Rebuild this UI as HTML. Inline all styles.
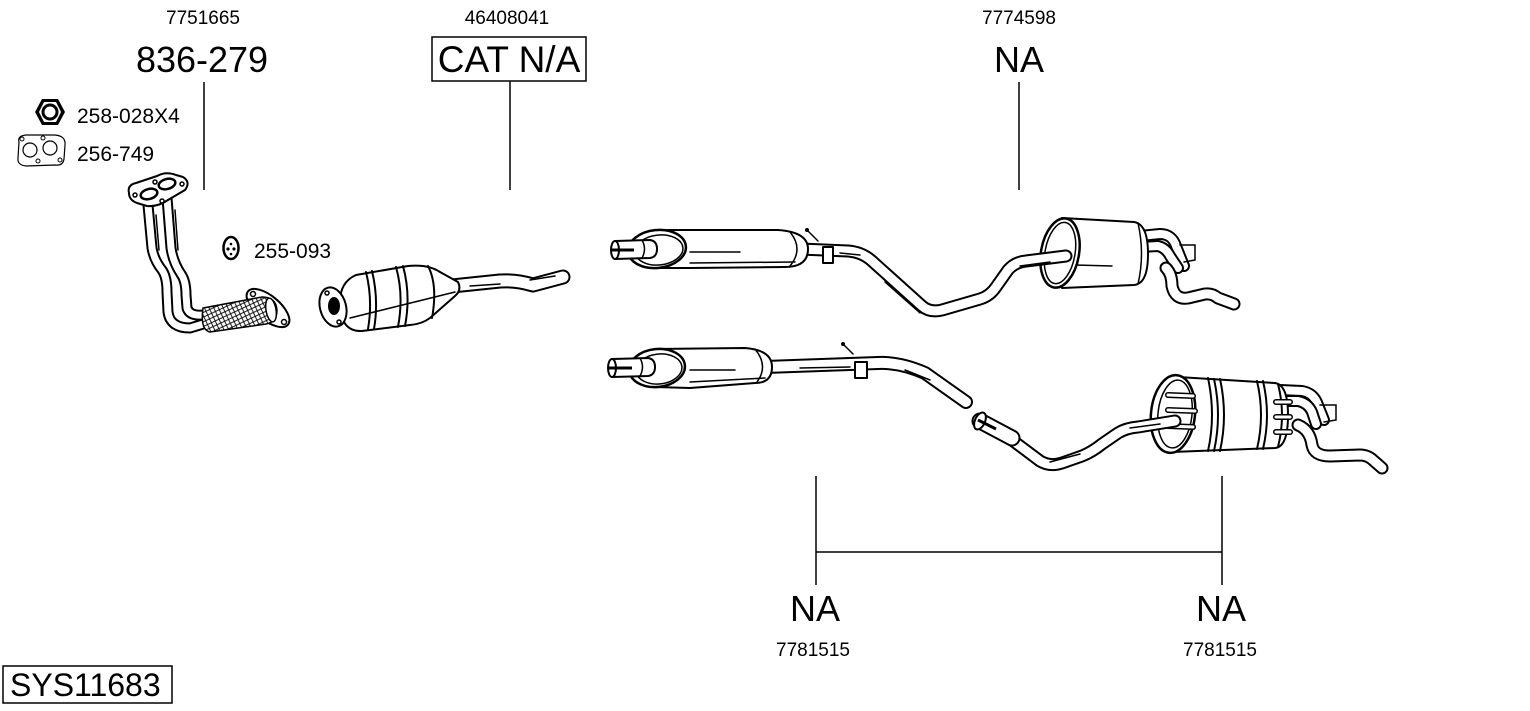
<!DOCTYPE html>
<html><head><meta charset="utf-8"><style>
html,body{margin:0;padding:0;background:#fff;width:1530px;height:711px;overflow:hidden}
svg{display:block}
text{font-family:"Liberation Sans",Arial,sans-serif;fill:#000}
.po{fill:none;stroke:#000;stroke-width:14;stroke-linecap:round;stroke-linejoin:round}
.pi{fill:none;stroke:#fff;stroke-width:10;stroke-linecap:round;stroke-linejoin:round}
.so{fill:none;stroke:#000;stroke-width:11;stroke-linecap:round;stroke-linejoin:round}
.si{fill:none;stroke:#fff;stroke-width:7;stroke-linecap:round;stroke-linejoin:round}
.ln{fill:none;stroke:#000;stroke-width:1.5}
.sh{fill:#fff;stroke:#000;stroke-width:2;stroke-linejoin:round}
.sl{fill:none;stroke:#000;stroke-width:1.5;stroke-linecap:round}
</style></head><body>
<svg width="1530" height="711" viewBox="0 0 1530 711" xmlns="http://www.w3.org/2000/svg">
<defs>
<pattern id="hatch" width="6" height="6" patternUnits="userSpaceOnUse" patternTransform="rotate(20)">
<rect width="6" height="6" fill="#fff"/>
<path d="M0,0 L6,6 M6,0 L0,6" stroke="#000" stroke-width="0.9"/>
</pattern>
</defs>

<!-- Labels -->
<text x="203" y="24" font-size="19" text-anchor="middle">7751665</text>
<text x="202" y="72" font-size="36" text-anchor="middle">836-279</text>
<text x="507" y="24" font-size="19" text-anchor="middle">46408041</text>
<rect x="432" y="37" width="154" height="44" fill="none" stroke="#000" stroke-width="1.5"/>
<text x="509" y="72" font-size="37" text-anchor="middle">CAT N/A</text>
<text x="1019" y="24" font-size="19" text-anchor="middle">7774598</text>
<text x="1019" y="72" font-size="36" text-anchor="middle">NA</text>
<text x="77" y="123" font-size="21">258-028X4</text>
<text x="77" y="161" font-size="21">256-749</text>
<text x="254" y="258" font-size="21">255-093</text>
<text x="815" y="621" font-size="36" text-anchor="middle">NA</text>
<text x="1221" y="621" font-size="36" text-anchor="middle">NA</text>
<text x="813" y="656" font-size="19" text-anchor="middle">7781515</text>
<text x="1220" y="656" font-size="19" text-anchor="middle">7781515</text>
<rect x="3" y="666" width="169" height="37" fill="none" stroke="#000" stroke-width="1.5"/>
<text x="10" y="696" font-size="32">SYS11683</text>

<!-- Leader lines -->
<path class="ln" d="M204,82 V190 M510,81 V190 M1019,82 V190 M816,476 V585 M1222,476 V585 M816,552 H1222"/>

<!-- Nut icon -->
<polygon points="35,112 42,99 58,99 65,112 58,125 42,125" fill="#000"/>
<polygon points="39,112 44,102 56,102 61,112 56,122 44,122" fill="#fff"/>
<circle cx="50" cy="112" r="7" fill="#fff" stroke="#000" stroke-width="3"/>

<!-- Gasket icon -->
<path class="sh" style="stroke-width:1.2" d="M19,142 Q17,136 26,135 L55,135 Q66,136 65,145 L64,159 Q63,166 55,165 L26,166 Q17,165 18,158 Z"/>
<circle cx="30" cy="150" r="7" fill="none" stroke="#000" stroke-width="1.2"/>
<circle cx="50" cy="148" r="7" fill="none" stroke="#000" stroke-width="1.2"/>
<circle cx="22" cy="139" r="2" fill="none" stroke="#000" stroke-width="1"/>
<circle cx="43" cy="138" r="2" fill="none" stroke="#000" stroke-width="1"/>
<circle cx="60" cy="160" r="2" fill="none" stroke="#000" stroke-width="1"/>
<circle cx="38" cy="161" r="2" fill="none" stroke="#000" stroke-width="1"/>

<!-- 255-093 icon -->
<ellipse cx="231" cy="248" rx="7.5" ry="11" fill="#fff" stroke="#000" stroke-width="2.5"/>
<circle cx="228" cy="249" r="1.6" fill="#000"/>
<circle cx="234" cy="249" r="1.6" fill="#000"/>
<circle cx="231" cy="244" r="1.3" fill="#000"/>
<circle cx="231" cy="254" r="1.3" fill="#000"/>

<!-- Downpipe -->
<path class="so" d="M148,205 L152,248 Q154,260 162,270 Q167,277 167,292 L168,312 Q170,328 190,328 L210,322"/>
<path class="si" d="M148,205 L152,248 Q154,260 162,270 Q167,277 167,292 L168,312 Q170,328 190,328 L210,322"/>
<path class="so" d="M167,198 L171,248 Q173,262 181,274 Q186,281 186,295 L187,308 Q190,318 210,314"/>
<path class="si" d="M167,198 L171,248 Q173,262 181,274 Q186,281 186,295 L187,308 Q190,318 210,314"/>
<path class="sl" d="M156,215 L159,250 M175,210 L178,250"/>
<ellipse cx="268" cy="308" rx="26" ry="12" transform="rotate(40 268 308)" class="sh"/>
<circle cx="253" cy="294" r="2.5" fill="#fff" stroke="#000" stroke-width="1.5"/>
<circle cx="284" cy="322" r="2.5" fill="#fff" stroke="#000" stroke-width="1.5"/>
<path d="M203,308 L262,297 Q276,297 277,310 Q277,322 266,324 L210,332 Q200,330 203,308 Z" fill="url(#hatch)" stroke="#000" stroke-width="1.5"/>
<ellipse cx="271" cy="310" rx="5" ry="12" transform="rotate(-10 271 310)" class="sh" style="stroke-width:1.5"/>
<path class="sh" d="M129,193 Q127,185 136,183 L157,176 Q166,171 176,175 L183,177 Q191,182 185,190 L168,200 Q158,207 147,206 L137,203 Q129,200 129,193 Z"/>
<ellipse cx="149" cy="194" rx="8.5" ry="5" transform="rotate(-15 149 194)" fill="#fff" stroke="#000" stroke-width="2.5"/>
<ellipse cx="167" cy="184" rx="8.5" ry="5" transform="rotate(-15 167 184)" fill="#fff" stroke="#000" stroke-width="2.5"/>
<circle cx="135" cy="195" r="2" fill="#fff" stroke="#000" stroke-width="1.5"/>
<circle cx="155" cy="182" r="2" fill="#fff" stroke="#000" stroke-width="1.5"/>
<circle cx="182" cy="184" r="2" fill="#fff" stroke="#000" stroke-width="1.5"/>
<circle cx="162" cy="201" r="2" fill="#fff" stroke="#000" stroke-width="1.5"/>

<!-- Catalyst -->
<path class="po" style="stroke-width:15" d="M452,286 L500,281 Q516,280 533,285 L563,277"/>
<path class="pi" style="stroke-width:11" d="M452,286 L500,281 Q516,280 533,285 L563,277"/>
<path class="sl" d="M470,286 L500,284 M530,280 L555,276"/>
<path class="sh" d="M340,302 Q340,282 356,275 L408,266 Q428,264 440,272 L458,282 Q462,290 455,296 L430,318 Q422,324 410,325 L362,331 Q340,332 340,302 Z"/>
<path class="sl" style="stroke-width:2" d="M366,272 Q373,300 368,329 M372,271 Q379,300 374,329 M396,267 Q404,295 398,327 M403,266 Q411,295 405,326 M428,266 Q438,285 432,318"/>
<path class="sl" d="M350,318 L455,292"/>
<ellipse cx="333" cy="307" rx="13" ry="20" transform="rotate(-15 333 307)" class="sh"/>
<ellipse cx="334" cy="306" rx="6" ry="9" fill="#000"/>
<circle cx="327" cy="293" r="2" fill="#fff" stroke="#000" stroke-width="1.5"/>
<circle cx="339" cy="322" r="2" fill="#fff" stroke="#000" stroke-width="1.5"/>

<!-- Top rear tailpipes -->
<path class="po" style="stroke-width:12" d="M1140,236 L1160,234 Q1172,234 1176,246 L1184,266"/>
<path class="pi" style="stroke-width:8" d="M1140,236 L1160,234 Q1172,234 1176,246 L1184,266"/>
<path class="po" style="stroke-width:12" d="M1140,247 L1158,246 Q1166,248 1170,256 L1178,268"/>
<path class="pi" style="stroke-width:8" d="M1140,247 L1158,246 Q1166,248 1170,256 L1178,268"/>
<path class="sl" d="M1180,245 L1195,245 L1195,260 L1184,262"/>
<path class="po" style="stroke-width:13" d="M1166,268 Q1172,274 1172,286 Q1175,300 1188,298 L1205,294 Q1212,293 1218,298 L1234,304"/>
<path class="pi" style="stroke-width:9" d="M1166,268 Q1172,274 1172,286 Q1175,300 1188,298 L1205,294 Q1212,293 1218,298 L1234,304"/>

<!-- Top rear muffler -->
<path class="sh" d="M1062,218 L1134,222 Q1148,224 1148,254 Q1148,284 1134,285 L1062,288 Z"/>
<path class="sl" d="M1138,223 Q1145,254 1138,284 M1075,265 L1112,266"/>
<ellipse cx="1060" cy="253" rx="19" ry="35" transform="rotate(10 1060 253)" fill="#fff" stroke="#000" stroke-width="2.5"/>
<ellipse cx="1060" cy="253" rx="15" ry="31" transform="rotate(10 1060 253)" fill="none" stroke="#000" stroke-width="1.5"/>

<!-- Top front pipe -->
<path class="po" style="stroke-width:13" d="M800,249 L848,251 Q862,252 872,261 L922,306 Q930,313 942,310 L980,299 Q990,296 996,287 L1008,270 Q1015,262 1026,261 L1066,256"/>
<path class="pi" style="stroke-width:9" d="M800,249 L848,251 Q862,252 872,261 L922,306 Q930,313 942,310 L980,299 Q990,296 996,287 L1008,270 Q1015,262 1026,261 L1066,256"/>
<path class="sl" d="M840,253 L860,255 M885,282 L920,313 M1020,266 L1050,262"/>

<!-- Top front muffler -->
<path class="sh" d="M655,230 L778,230 Q808,232 808,249 Q808,267 785,267 L690,268 L655,268 Z"/>
<path class="sl" d="M690,252 L740,252 M690,263 L795,262 M790,232 Q804,249 790,266"/>
<ellipse cx="657" cy="249" rx="29" ry="19" transform="rotate(-6 657 249)" fill="#fff" stroke="#000" stroke-width="2.5"/>
<ellipse cx="659" cy="250" rx="24" ry="15" transform="rotate(-6 659 250)" fill="none" stroke="#000" stroke-width="1.5"/>
<path class="sh" d="M615,241 L650,240 Q657,241 657,249 Q657,257 650,258 L615,259 Z"/>
<path class="sl" d="M642,240 Q647,249 642,258"/>
<ellipse cx="615" cy="250" rx="4" ry="9" class="sh"/>
<path d="M612,250 L634,250" stroke="#000" stroke-width="3"/>
<rect x="823" y="247" width="10" height="16" class="sh"/>
<path class="sl" d="M807,230 L818,241"/>
<circle cx="807" cy="230" r="2" fill="#000"/>

<!-- Lower front pipe -->
<path class="po" d="M765,367 L878,363 Q900,362 925,373 L966,402"/>
<path class="pi" d="M765,367 L878,363 Q900,362 925,373 L966,402"/>
<path class="sl" d="M800,368 L850,367 M905,370 L930,380"/>
<!-- Lower front muffler -->
<path class="sh" d="M655,349 L745,348 Q772,350 772,367 Q772,383 755,383 L690,388 L655,387 Z"/>
<path class="sl" d="M690,370 L735,370 M690,382 L765,378 M755,349 Q769,366 757,382"/>
<ellipse cx="657" cy="368" rx="28" ry="19" transform="rotate(-6 657 368)" fill="#fff" stroke="#000" stroke-width="2.5"/>
<ellipse cx="659" cy="369" rx="23" ry="15" transform="rotate(-6 659 369)" fill="none" stroke="#000" stroke-width="1.5"/>
<path class="sh" d="M612,359 L648,358 Q655,359 655,367 Q655,375 648,376 L612,377 Z"/>
<path class="sl" d="M640,358 Q645,367 640,376"/>
<ellipse cx="612" cy="368" rx="4" ry="9" class="sh"/>
<path d="M609,368 L632,368" stroke="#000" stroke-width="3"/>
<rect x="855" y="362" width="12" height="16" class="sh"/>
<path class="sl" d="M843,344 L853,354"/>
<circle cx="843" cy="344" r="2" fill="#000"/>

<!-- Lower rear tailpipes -->
<path class="po" style="stroke-width:12" d="M1280,390 L1302,391 Q1314,393 1318,405 L1324,420"/>
<path class="pi" style="stroke-width:8" d="M1280,390 L1302,391 Q1314,393 1318,405 L1324,420"/>
<path class="po" style="stroke-width:12" d="M1280,401 L1298,401 Q1308,403 1312,412 L1316,424"/>
<path class="pi" style="stroke-width:8" d="M1280,401 L1298,401 Q1308,403 1312,412 L1316,424"/>
<path class="sl" d="M1320,405 L1336,405 L1336,420 L1324,422"/>
<path class="po" style="stroke-width:13" d="M1298,425 Q1310,430 1312,445 Q1314,456 1330,456 L1360,455 Q1368,455 1374,461 L1382,468"/>
<path class="pi" style="stroke-width:9" d="M1298,425 Q1310,430 1312,445 Q1314,456 1330,456 L1360,455 Q1368,455 1374,461 L1382,468"/>

<!-- Lower rear muffler -->
<path class="sh" d="M1178,377 L1275,383 Q1288,385 1288,415 Q1288,447 1275,448 L1172,452 Z"/>
<path class="sl" style="stroke-width:2" d="M1208,378 Q1216,415 1208,451 M1214,379 Q1222,415 1214,451 M1220,379 Q1228,415 1220,451 M1257,381 Q1265,415 1257,449 M1263,381 Q1271,415 1263,449 M1278,384 Q1286,415 1278,447"/>
<ellipse cx="1173" cy="414" rx="22" ry="39" transform="rotate(6 1173 414)" fill="#fff" stroke="#000" stroke-width="2.5"/>
<ellipse cx="1175" cy="414" rx="17" ry="34" transform="rotate(6 1175 414)" fill="none" stroke="#000" stroke-width="1.5"/>
<path d="M1168,395 L1193,396 M1168,410 L1195,411 M1168,426 L1193,427 M1276,402 L1290,402 M1276,417 L1290,417 M1276,432 L1290,432" stroke="#000" stroke-width="6" stroke-linecap="round"/>
<path d="M1168,395 L1193,396 M1168,410 L1195,411 M1168,426 L1193,427 M1276,402 L1290,402 M1276,417 L1290,417 M1276,432 L1290,432" stroke="#fff" stroke-width="3" stroke-linecap="round"/>

<!-- Lower rear inlet pipe -->
<path class="po" style="stroke-width:13" d="M995,430 L1012,440 L1040,461 Q1050,467 1062,463 L1082,456 Q1092,452 1102,444 L1118,433 Q1126,428 1138,427 L1175,421"/>
<path class="pi" style="stroke-width:9" d="M995,430 L1012,440 L1040,461 Q1050,467 1062,463 L1082,456 Q1092,452 1102,444 L1118,433 Q1126,428 1138,427 L1175,421"/>
<path class="sl" d="M1050,462 L1080,454 M1130,428 L1160,424"/>
<path class="po" style="stroke-width:17" d="M980,421 L1012,438"/>
<path class="pi" style="stroke-width:13" d="M980,421 L1012,438"/>
<ellipse cx="980" cy="421" rx="5" ry="9" transform="rotate(25 980 421)" class="sh"/>
<path d="M978,420 L996,429" stroke="#000" stroke-width="3"/>
</svg>
</body></html>
